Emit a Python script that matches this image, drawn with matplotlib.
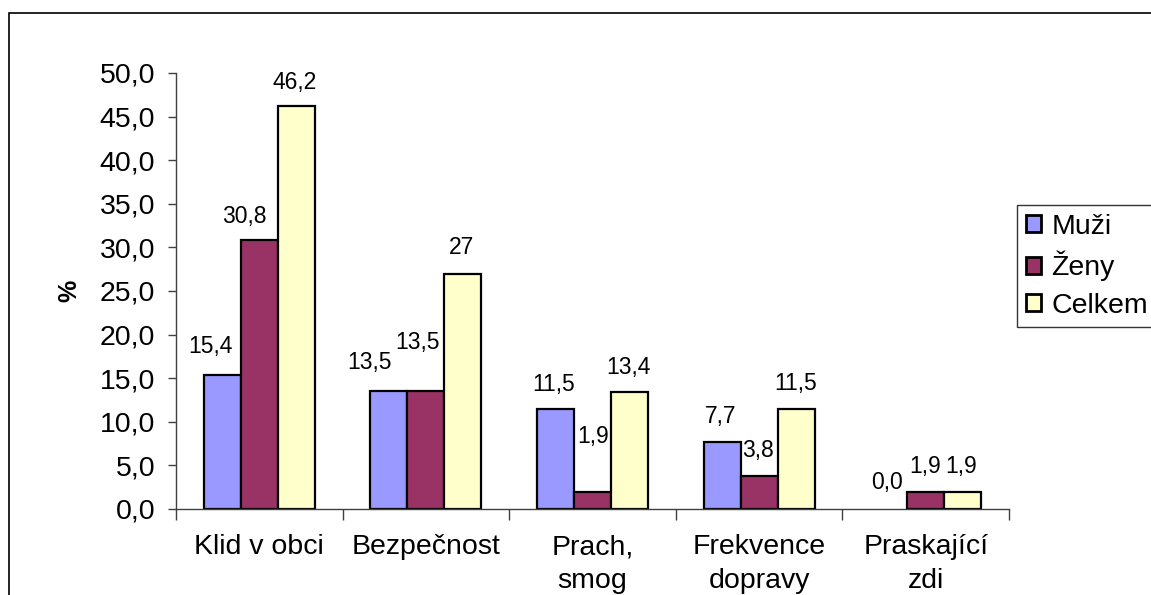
import numpy as np
import matplotlib
matplotlib.use("Agg")
import matplotlib.pyplot as plt
from matplotlib.patches import Rectangle
from matplotlib.ticker import FuncFormatter, FixedLocator, NullFormatter

plt.rcParams["font.family"] = ["Liberation Sans", "DejaVu Sans"]

# --- data -------------------------------------------------------------
categories = ["Klid v obci", "Bezpečnost", "Prach,\nsmog", "Frekvence\ndopravy", "Praskající\nzdi"]
series_names = ["Muži", "Ženy", "Celkem"]
muzi = [15.4, 13.5, 11.5, 7.7, 0.0]
zeny = [30.8, 13.5, 1.9, 3.8, 1.9]
celkem = [46.2, 27.0, 13.4, 11.5, 1.9]
y_ticks = [0, 5, 10, 15, 20, 25, 30, 35, 40, 45, 50]

# --- styling ----------------------------------------------------------
colors = ["#9999FF", "#993366", "#FFFFCC"]
# label placement (pixel offsets from the top centre of each bar)
label_offsets = [
    [(-11.5, 28), (-19, 29), (-2, 24), (-1, 25), (-1.5, 26)],
    [(-14.5, 23.5), (-8.5, 49), (0.7, 55.7), (-1.3, 25.4), (-1, 26.4)],
    [(-1.3, 23.5), (-1.3, 25.8), (-1, 25), (0, 25.7), (-1.8, 26.4)],
]
# the whole-number share of "Bezpečnost / Celkem" is printed without decimals
plain_labels = {(2, 1)}

W, H = 1151, 595
fig = plt.figure(figsize=(W / 100, H / 100), dpi=100)
fig.patch.set_facecolor("white")

ax = fig.add_axes([176 / W, 1 - 509 / H, (1009 - 176) / W, (509 - 73) / H])

values = [muzi, zeny, celkem]
n_cat = len(categories)
x = np.arange(n_cat)
bar_w = 1 / 4.5
for i, (vals, col) in enumerate(zip(values, colors)):
    pos = x + (i - 1) * bar_w
    bars = ax.bar(pos, vals, width=bar_w, color=col, edgecolor="black",
                  linewidth=1.6, label=series_names[i], zorder=2)
    for b, v in zip(bars, vals):
        if v == 0:
            b.set_linewidth(0)
    for j, v in enumerate(vals):
        if (i, j) in plain_labels:
            txt = f"{v:g}"
        else:
            txt = f"{v:.1f}".replace(".", ",")
        dx, dy = label_offsets[i][j]
        ax.annotate(txt, xy=(pos[j], v), xytext=(dx, dy),
                    textcoords="offset pixels", ha="center", va="center",
                    fontsize=16.5, color="black")

ax.set_xlim(-0.5, n_cat - 0.5)
ax.set_ylim(0, 50)

ax.yaxis.set_major_locator(FixedLocator(y_ticks))
ax.yaxis.set_major_formatter(FuncFormatter(lambda v, p: f"{v:.1f}".replace(".", ",")))
ax.tick_params(axis="y", direction="out", length=6, width=1, color="#404040",
               labelsize=20.5, pad=9)

# tick marks sit on the category boundaries, names are centred below each group
ax.xaxis.set_major_locator(FixedLocator(np.arange(n_cat + 1) - 0.5))
ax.xaxis.set_major_formatter(NullFormatter())
ax.tick_params(axis="x", which="major", direction="out", length=8, width=1, color="#404040")
xlab_tr = ax.get_xaxis_transform()
for xi, name in zip(x, categories):
    ax.annotate(name, xy=(xi, 0), xycoords=xlab_tr, xytext=(0, -25),
                textcoords="offset pixels", ha="center", va="top",
                fontsize=20.5, linespacing=1.38, annotation_clip=False)

for side in ["top", "right"]:
    ax.spines[side].set_visible(False)
for side in ["left", "bottom"]:
    ax.spines[side].set_color("#404040")
    ax.spines[side].set_linewidth(1)

ax.set_ylabel("%", fontsize=18, fontweight="bold")
ax.yaxis.set_label_coords((81 - 176) / (1009 - 176), 0.5)

leg = ax.legend(loc="upper left", bbox_to_anchor=(1017 / W, 1 - 205 / H),
                bbox_transform=fig.transFigure, fontsize=20.5, frameon=True,
                fancybox=False, shadow=False, borderaxespad=0, borderpad=0.3,
                handlelength=0.56, handleheight=0.56, handletextpad=0.35,
                labelspacing=0.4)
leg.get_frame().set_edgecolor("black")
leg.get_frame().set_linewidth(1)
for h in leg.legend_handles:
    h.set_linewidth(2)

# outer chart frame
fig.add_artist(Rectangle((9 / W, -0.05), 1.1, 1 - 13 / H + 0.05,
                         transform=fig.transFigure, fill=False,
                         edgecolor="black", linewidth=1.2))

fig.savefig("out.png", dpi=100)
